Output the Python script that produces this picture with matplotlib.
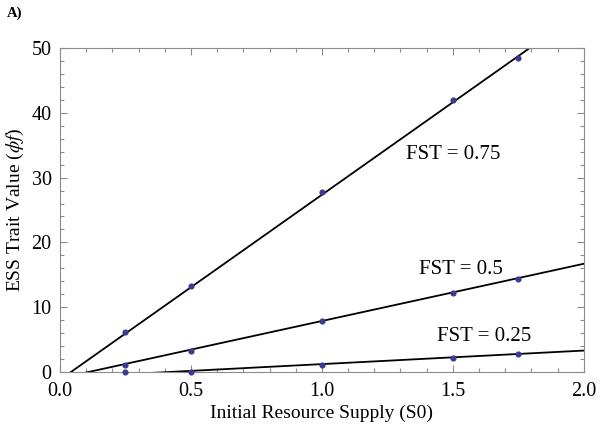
import numpy as np
import matplotlib as mpl
mpl.use("Agg")
import matplotlib.pyplot as plt
from matplotlib.ticker import MultipleLocator

plt.rcParams["font.family"] = ["Liberation Serif", "DejaVu Serif"]
plt.rcParams["mathtext.fontset"] = "stix"

# simulated ESS points, one list per FST value
s0 = [0.25, 0.5, 1.0, 1.5, 1.75]
ess_075 = [6.2, 13.2, 27.8, 42.0, 48.5]
ess_050 = [1.0, 3.3, 7.8, 12.2, 14.4]
ess_025 = [0.0, 0.0, 1.0, 2.2, 2.8]

# analytic lines, given by their ends at S0 = 0 and S0 = 2
line_x = [0.0, 2.0]
line_075 = [-1.2, 55.9]
line_050 = [-0.97, 16.7]
line_025 = [-0.88, 3.3]

labels = ["FST = 0.75", "FST = 0.5", "FST = 0.25"]
label_xy = [(1.50, 33.5), (1.53, 15.8), (1.62, 5.4)]

GREY = "#8c8c8c"
DOT = "#3b3b8f"

fig = plt.figure(figsize=(6.0, 4.29), dpi=100)
ax = fig.add_axes([0.1, 0.133, 0.873, 0.755])

for ly, pts in [(line_075, ess_075), (line_050, ess_050), (line_025, ess_025)]:
    ax.plot(line_x, ly, color="black", lw=1.3, zorder=2)
    ax.plot(s0, pts, "o", color=DOT, ms=3.4, mec=DOT, zorder=3, clip_on=False)

for lab, (x, y) in zip(labels, label_xy):
    ax.text(x, y, lab, fontsize=15, ha="center", va="center")

ax.set_xlim(0, 2)
ax.set_ylim(0, 50)
ax.xaxis.set_major_locator(MultipleLocator(0.5))
ax.xaxis.set_minor_locator(MultipleLocator(0.1))
ax.yaxis.set_major_locator(MultipleLocator(10))
ax.yaxis.set_minor_locator(MultipleLocator(2))
ax.xaxis.set_major_formatter(mpl.ticker.FormatStrFormatter("%.1f"))
ax.tick_params(which="both", direction="in", top=True, right=True, color=GREY,
               labelsize=14.5, width=0.8)
ax.tick_params(axis="x", pad=7)
ax.tick_params(axis="y", pad=6)
ax.tick_params(which="major", length=5)
ax.tick_params(which="minor", length=2.8)
for sp in ax.spines.values():
    sp.set_color(GREY)
    sp.set_linewidth(0.8)

ax.set_xlabel("Initial Resource Supply (S0)", fontsize=14, labelpad=3)
ax.set_ylabel(r"ESS Trait Value ($\phi f$)", fontsize=14, labelpad=4)
fig.text(0.012, 0.968, "A)", fontsize=10.5, fontweight="bold", va="center")

fig.savefig("out.png", dpi=100)
